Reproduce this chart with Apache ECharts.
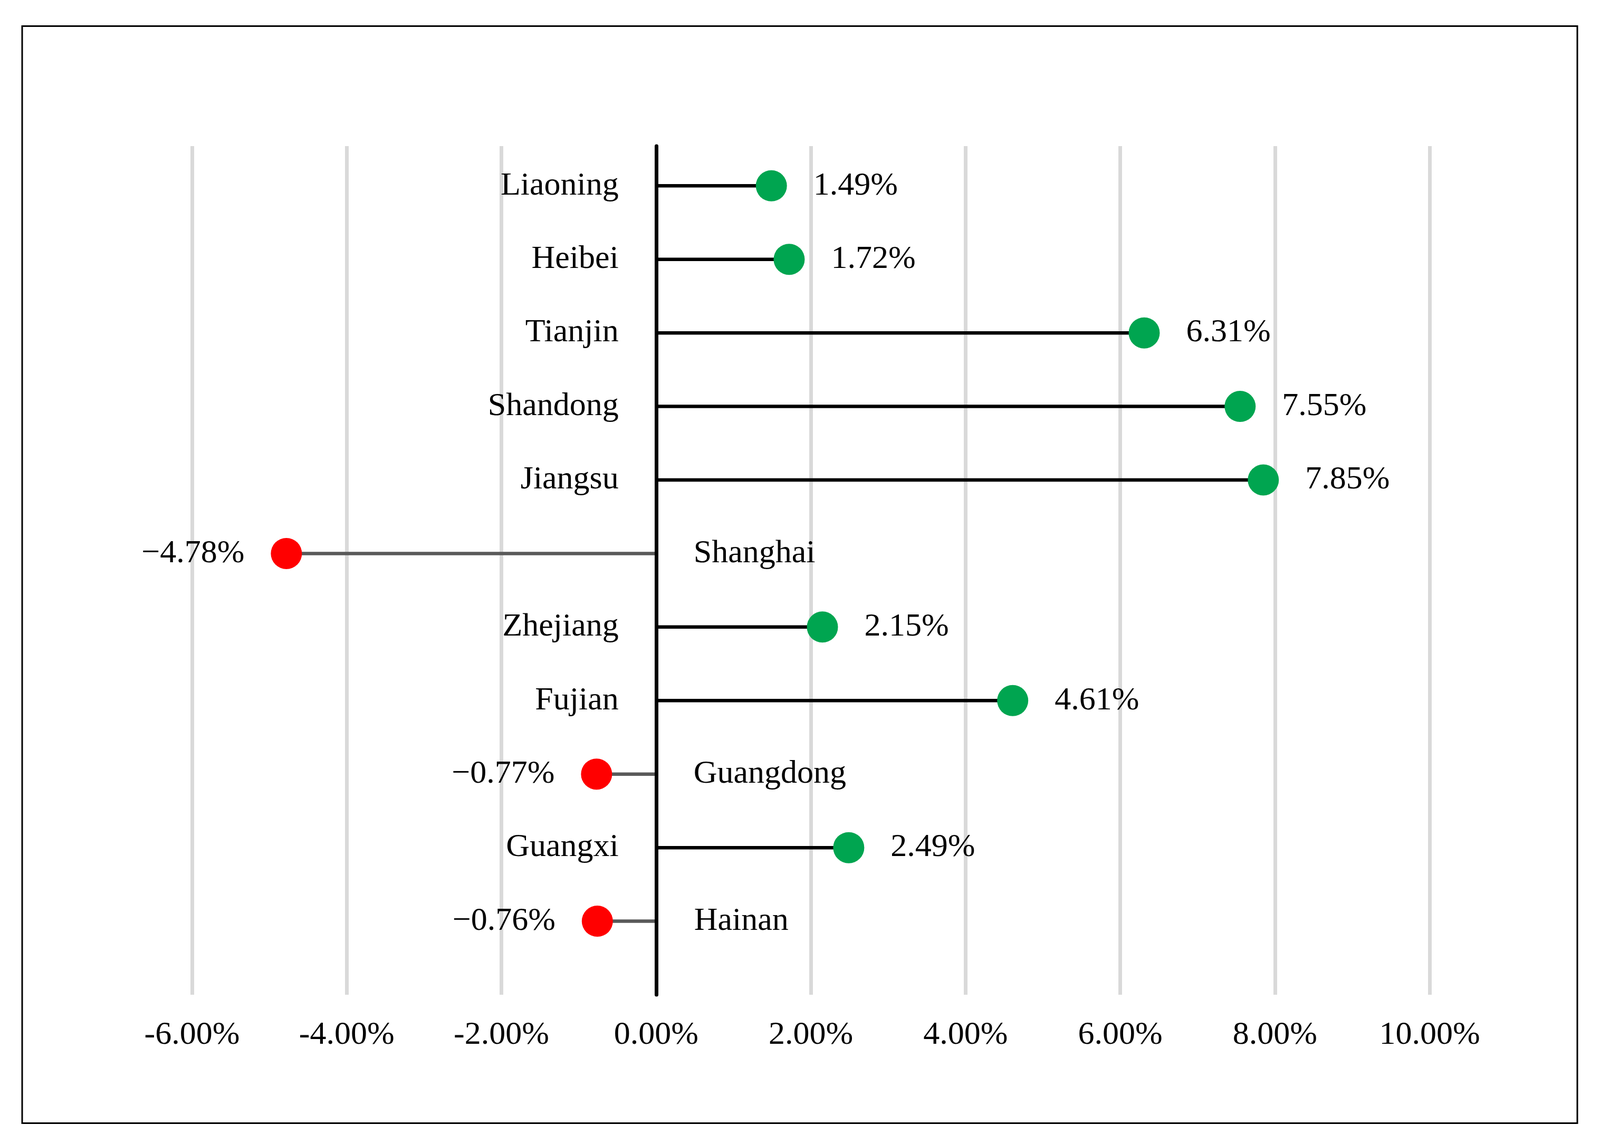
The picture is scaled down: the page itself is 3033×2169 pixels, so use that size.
<!DOCTYPE html>
<html>
<head>
<meta charset="utf-8">
<script src="https://cdn.jsdelivr.net/npm/echarts@6/dist/echarts.min.js"></script>
<style>
html,body{margin:0;padding:0;background:#fff;}
#chart{width:3033px;height:2169px;}
</style>
</head>
<body>
<div id="chart"></div>
<script>
// ---- data ----
var categories = ['Liaoning','Heibei','Tianjin','Shandong','Jiangsu','Shanghai','Zhejiang','Fujian','Guangdong','Guangxi','Hainan'];
var values = [1.49, 1.72, 6.31, 7.55, 7.85, -4.78, 2.15, 4.61, -0.77, 2.49, -0.76];
var xTicks = [-6, -4, -2, 0, 2, 4, 6, 8, 10];

// ---- styling ----
var FONT = 'Liberation Serif';
var FS = 62;
var GREEN = '#00A550';
var RED = '#FF0000';
var n = categories.length;
function rowOf(i){ return n - i; }
function fmtVal(v){ return (v < 0 ? '\u2212' : '') + Math.abs(v).toFixed(2) + '%'; }

var stemData = values.map(function(v,i){ return [v, rowOf(i)]; });
var dotData = values.map(function(v,i){
  return {
    value: [v, rowOf(i)],
    itemStyle: { color: v >= 0 ? GREEN : RED, opacity: 1 },
    label: { position: v >= 0 ? 'right' : 'left' }
  };
});
var nameData = values.map(function(v,i){
  return {
    value: [0, rowOf(i)],
    name: categories[i],
    label: { position: v >= 0 ? 'left' : 'right' }
  };
});

var chart = echarts.init(document.getElementById('chart'), null, {renderer:'canvas'});
chart.setOption({
  animation: false,
  backgroundColor: '#ffffff',
  textStyle: { fontFamily: FONT },
  graphic: [{
    type: 'rect',
    shape: { x: 42, y: 49.5, width: 2948, height: 2080 },
    style: { fill: 'none', stroke: '#000', lineWidth: 3 },
    z: -10
  }],
  grid: { left: 364, right: 323, top: 277, bottom: 283, containLabel: false },
  xAxis: {
    type: 'value',
    min: xTicks[0],
    max: xTicks[xTicks.length-1],
    interval: xTicks[1] - xTicks[0],
    axisLine: { show: false },
    axisTick: { show: false },
    splitLine: { show: true, lineStyle: { color: '#d9d9d9', width: 7 } },
    axisLabel: {
      margin: 46,
      fontFamily: FONT,
      fontSize: FS,
      color: '#000',
      formatter: function(v){ return v.toFixed(2) + '%'; }
    }
  },
  yAxis: {
    type: 'value',
    min: 0,
    max: 11.54,
    axisLine: { show: true, onZero: true, lineStyle: { color: '#000', width: 7 } },
    axisTick: { show: false },
    axisLabel: { show: false },
    splitLine: { show: false },
    z: 5
  },
  series: [
    {
      type: 'custom',
      z: 2,
      data: stemData,
      renderItem: function(params, api){
        var v = api.value(0), y = api.value(1);
        var p0 = api.coord([0, y]);
        var p1 = api.coord([v, y]);
        return {
          type: 'line',
          shape: { x1: p0[0], y1: p0[1], x2: p1[0], y2: p1[1] },
          style: { stroke: v >= 0 ? '#000000' : '#595959', lineWidth: 6.5 }
        };
      }
    },
    {
      type: 'scatter',
      z: 6,
      symbol: 'circle',
      symbolSize: 59,
      itemStyle: { opacity: 1 },
      data: dotData,
      label: {
        show: true,
        distance: 50,
        fontFamily: FONT,
        fontSize: FS,
        color: '#000',
        formatter: function(p){ return fmtVal(p.value[0]); }
      }
    },
    {
      type: 'scatter',
      z: 6,
      symbol: 'circle',
      symbolSize: 0,
      itemStyle: { color: '#000', opacity: 1 },
      data: nameData,
      label: {
        show: true,
        distance: 71,
        fontFamily: FONT,
        fontSize: FS,
        color: '#000',
        opacity: 1,
        formatter: function(p){ return p.name; }
      }
    }
  ]
});
</script>
</body>
</html>
